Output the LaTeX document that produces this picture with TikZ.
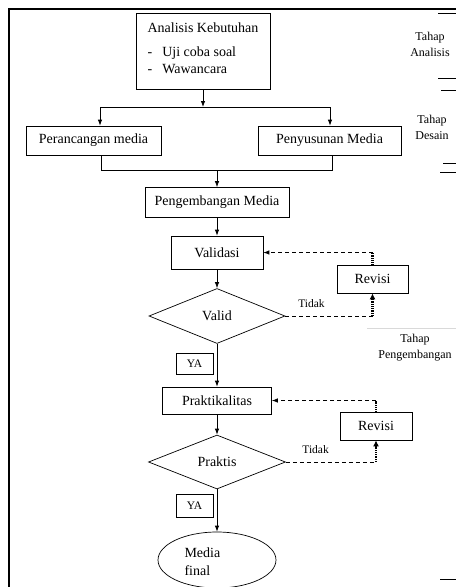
\documentclass[tikz,border=0pt]{standalone}
\usepackage{fontspec}
\setmainfont{Liberation Serif}
\usetikzlibrary{calc, shapes.geometric, arrows.meta}
\tikzset{
 kotak/.style={draw, line width=0.7pt, inner sep=2pt, font=\fontsize{14}{17}\selectfont},
 wajik/.style={draw, diamond, line width=0.7pt, inner sep=0pt, font=\fontsize{14}{17}\selectfont},
 kecil/.style={font=\fontsize{11.5}{13}\selectfont},
 tahap/.style={align=center, font=\fontsize{12}{16}\selectfont},
 panah/.style={-{Latex[length=6pt,width=4.5pt]}, line width=0.8pt},
 putus/.style={dash pattern=on 4pt off 3pt, line width=0.8pt},
 titik/.style={dash pattern=on 1pt off 0.8pt, line width=2.6pt},
}
\begin{document}
\begin{tikzpicture}[x=1pt, y=-1pt]
 \useasboundingbox (0,0) rectangle (456,587);
 \draw[line width=2pt] (9,587) -- (9,9) -- (456,9);
 % kotak-kotak alur
 \node[kotak, minimum width=134, minimum height=76] (ak) at (203,51)
  {\begin{tabular}{@{}l@{\hspace{10pt}}l@{}}\multicolumn{2}{@{}c@{}}{Analisis Kebutuhan}\\[7pt]
   -& Uji coba soal\\ -& Wawancara\\[3pt]\end{tabular}};
 \node[kotak, minimum width=135, minimum height=29] (pm) at (93.5,140.5) {Perancangan media};
 \node[kotak, minimum width=143, minimum height=29] (pn) at (329.5,140.5) {Penyusunan Media};
 \node[kotak, minimum width=144, minimum height=30] (pg) at (217,202.5) {Pengembangan Media};
 \node[kotak, minimum width=92, minimum height=33] (val) at (217,252.5) {Validasi};
 \node[wajik, minimum width=136, minimum height=55] (vd) at (217,316) {Valid};
 \node[kotak, minimum width=71, minimum height=28] (rv1) at (372.5,279) {Revisi};
 \node[kotak, kecil, minimum width=37, minimum height=21] (ya1) at (194.5,363.5) {YA};
 \node[kotak, minimum width=109, minimum height=27] (pk) at (217,400.5) {Praktikalitas};
 \node[wajik, minimum width=137, minimum height=54] (pt) at (217,462) {Praktis};
 \node[kotak, minimum width=72, minimum height=28] (rv2) at (376,426) {Revisi};
 \node[kotak, kecil, minimum width=37, minimum height=23] (ya2) at (194.5,505.5) {YA};
 \node[draw, ellipse, line width=0.7pt, minimum width=118, minimum height=56] (mf) at (217,560) {};
 \node[align=left, anchor=west, font=\fontsize{14}{18}\selectfont] (mft) at (181,562) {Media\\final};
 % percabangan
 \coordinate (a1) at (100,107);
 \coordinate (a2) at (330,107);
 \coordinate (b1) at (101,170);
 \coordinate (b2) at (332,170);
 \coordinate (b0) at (217,170);
 \draw[panah] (ak.south) -- (ak.south |- a1);
 \draw[line width=0.8pt] (a1) -- (a2);
 \draw[panah] (a1) -- (a1 |- pm.north);
 \draw[panah] (a2) -- (a2 |- pn.north);
 \draw[line width=0.8pt] (b1 |- pm.south) -- (b1) -- (b2) -- (b2 |- pn.south);
 \draw[panah] (b0) -- (pg.north);
 \draw[panah] (pg.south) -- (val.north);
 \draw[panah] (val.south) -- (vd.north);
 \draw[panah] (vd.south) -- (pk.north);
 \draw[panah] (pk.south) -- (pt.north);
 \draw[panah] (pt.south) -- (mf.north);
 % revisi
 \draw[putus] (vd.east) -- (vd.east -| rv1.south) node[kecil, above=5pt, pos=.3] (td1) {Tidak};
 \draw[titik, -{Latex[length=6pt,width=6pt]}] (vd.east -| rv1.south) -- (rv1.south);
 \draw[titik] (rv1.north) -- (rv1.north |- val.east);
 \draw[putus, panah] (rv1.north |- val.east) -- (val.east);
 \draw[putus] (pt.east) -- (pt.east -| rv2.south) node[kecil, above=5pt, pos=.33] (td2) {Tidak};
 \draw[titik, -{Latex[length=6pt,width=6pt]}] (pt.east -| rv2.south) -- (rv2.south);
 \draw[titik] (rv2.north) -- (rv2.north |- pk.east);
 \draw[putus, panah] (rv2.north |- pk.east) -- (pk.east);
 % tahap
 \node[tahap] (tha) at (430,44) {Tahap\\Analisis};
 \node[tahap] (thd) at (432,127) {Tahap\\Desain};
 \node[tahap] (thp) at (415,348) {Tahap\\Pengembangan};
 \draw (438,13) -- (456,13);
 \draw (438,78) -- (456,78);
 \draw (441,90) -- (456,90);
 \draw (443,163) -- (456,163);
 \draw (440,172) -- (456,172);
 \draw[black!15] (367,328) -- (456,328);
 \draw (440,579) -- (456,579);
\end{tikzpicture}
\end{document}
